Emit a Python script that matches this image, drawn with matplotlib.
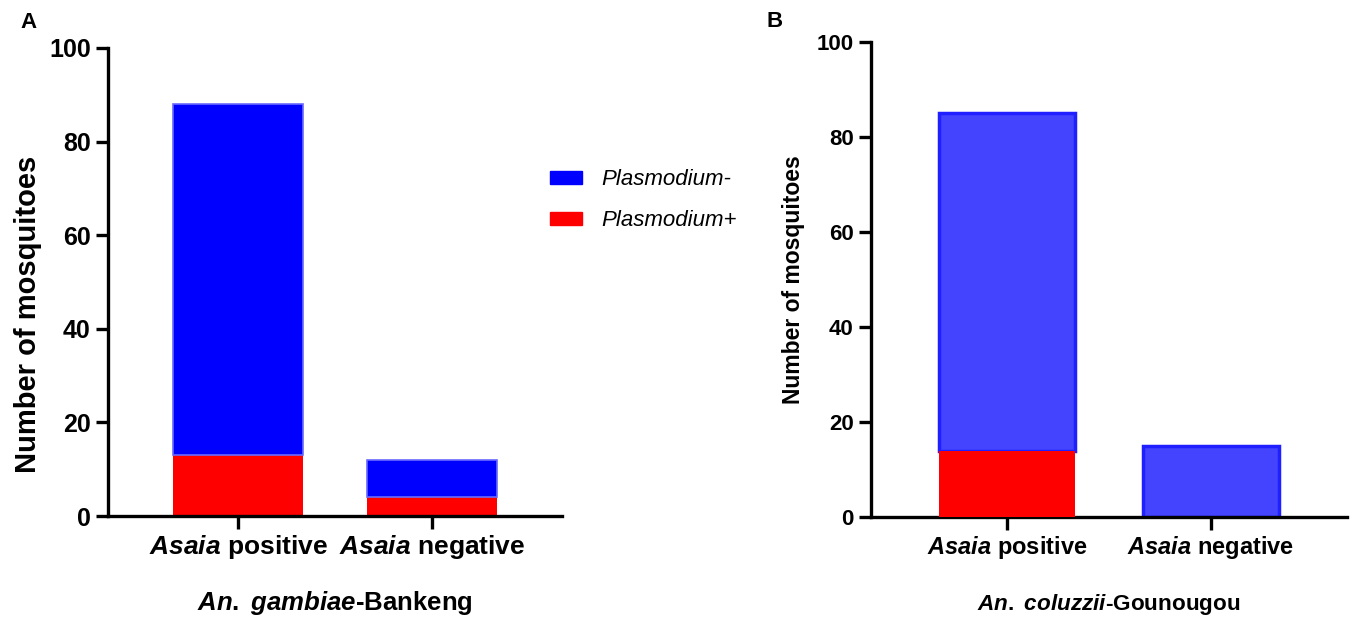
import numpy as np
import matplotlib.pyplot as plt

plt.rcParams['font.family'] = ['Liberation Sans', 'DejaVu Sans']
plt.rcParams['mathtext.fontset'] = 'custom'
plt.rcParams['mathtext.it'] = 'Liberation Sans:italic:bold'
plt.rcParams['mathtext.rm'] = 'Liberation Sans:bold'
plt.rcParams['mathtext.bf'] = 'Liberation Sans:bold'

categories = [r'$\mathit{Asaia}$ positive', r'$\mathit{Asaia}$ negative']
legend_labels = ['Plasmodium-', 'Plasmodium+']

# panel A: An. gambiae - Bankeng
a_plus = [13, 4]
a_minus = [75, 8]
# panel B: An. coluzzii - Gounougou
b_plus = [14, 0]
b_minus = [71, 15]

fig = plt.figure(figsize=(13.55, 6.2), dpi=100)
axA = fig.add_axes([0.0797, 0.1677, 0.3351, 0.7549])
axB = fig.add_axes([0.6428, 0.1661, 0.3513, 0.7662])


def style_axis(ax, tick_size, ylab_size, xlab, xlab_size, xtick_size, xpad):
    for s in ['top', 'right']:
        ax.spines[s].set_visible(False)
    for s in ['left', 'bottom']:
        ax.spines[s].set_linewidth(2.4)
    ax.set_ylim(0, 100)
    ax.set_xlim(-0.67, 1.67)
    ax.set_yticks([0, 20, 40, 60, 80, 100])
    ax.tick_params(axis='both', width=2.4, length=9, direction='out')
    for lab in ax.get_yticklabels():
        lab.set_fontsize(tick_size)
        lab.set_fontweight('bold')
    ax.set_xticks([0, 1])
    ax.set_xticklabels(categories, fontsize=xtick_size, fontweight='bold')
    ax.set_ylabel('Number of mosquitoes', fontsize=ylab_size, fontweight='bold', labelpad=8)
    ax.set_xlabel(xlab, fontsize=xlab_size, fontweight='bold', labelpad=xpad)


x = np.arange(len(categories))
w = 0.67

# A
axA.bar(x, a_plus, w, color='#ff0000', edgecolor='none', zorder=2)
axA.bar(x, a_minus, w, bottom=a_plus, color='#0000ff', edgecolor='#6a6aff',
        linewidth=1.2, zorder=2)
style_axis(axA, 18, 21, r'$\mathit{An.}$ $\mathit{gambiae}$-Bankeng', 18.5, 19, 20)
axA.yaxis.set_label_coords(-0.145, 0.43)

# B
axB.bar(x, b_plus, w, color='#ff0000', edgecolor='none', zorder=3)
axB.bar(x, b_minus, w, bottom=b_plus, color='#4444ff', edgecolor='#1f1fff',
        linewidth=2.5, zorder=2)
style_axis(axB, 16, 16.5, r'$\mathit{An.}$ $\mathit{coluzzii}$-Gounougou', 16.2, 17, 22)

# legend
h1 = plt.Rectangle((0, 0), 1, 1, color='#0000ff')
h2 = plt.Rectangle((0, 0), 1, 1, color='#ff0000')
fig.legend([h1, h2], legend_labels, loc='upper left', bbox_to_anchor=(0.4059, 0.727),
           frameon=False, prop={'style': 'italic', 'size': 16}, borderpad=0, borderaxespad=0,
           handlelength=1.45, handleheight=0.5, labelspacing=0.9, handletextpad=0.85)

fig.text(0.0148, 0.955, 'A', fontsize=16, fontweight='bold')
fig.text(0.566, 0.957, 'B', fontsize=16, fontweight='bold')

fig.savefig('out.png', dpi=100)
